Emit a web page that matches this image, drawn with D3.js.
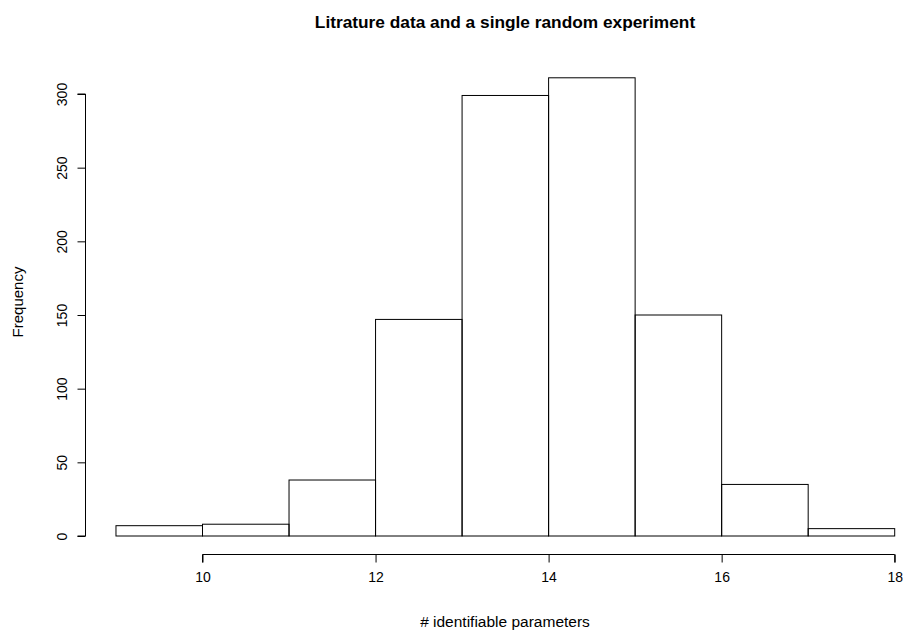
<!DOCTYPE html>
<html><head><meta charset="utf-8">
<script src="https://cdn.jsdelivr.net/npm/d3@7"></script>
<style>
body{margin:0;background:#fff;}
text{font-family:"Liberation Sans",Arial,Helvetica,sans-serif;fill:#000;}
</style></head>
<body><svg id="c" width="907" height="633"></svg>
<script>
const binStarts = [9,10,11,12,13,14,15,16,17];
const binWidth = 1;
const counts = [7,8,38,147,299,311,150,35,5];
const xTicks = [10,12,14,16,18];
const yTicks = [0,50,100,150,200,250,300];
const title = "Litrature data and a single random experiment";
const xLabel = "# identifiable parameters";
const yLabel = "Frequency";

const svg = d3.select("#c");
const x = d3.scaleLinear().domain([10,18]).range([202.5,894.7]);
const y = d3.scaleLinear().domain([0,300]).range([536,94]);

svg.append("g").selectAll("rect").data(counts).join("rect")
  .attr("x",(d,i)=>x(binStarts[i]))
  .attr("width",(d,i)=>x(binStarts[i]+binWidth)-x(binStarts[i]))
  .attr("y",d=>y(d))
  .attr("height",d=>y(0)-y(d))
  .attr("fill","none").attr("stroke","#000").attr("stroke-width",1);

// x axis
const gx = svg.append("g").attr("transform","translate(0,554.5)")
  .call(d3.axisBottom(x).tickValues(xTicks).tickSize(8).tickPadding(10).tickFormat(d3.format("d")));
gx.attr("font-size",null).attr("font-family",null);
gx.select(".domain").attr("d",`M${x(10)},8V0H${x(18)}V8`);
gx.selectAll(".tick text").style("font-size","14px");

// y axis
const gy = svg.append("g").attr("transform","translate(85.5,0)")
  .call(d3.axisLeft(y).tickValues(yTicks).tickSize(8).tickFormat(d3.format("d")));
gy.attr("font-size",null).attr("font-family",null);
gy.select(".domain").attr("d",`M-8,${y(0)}H0V${y(300)}H-8`);
gy.selectAll(".tick text").attr("transform","rotate(-90)").attr("x",0).attr("y",-19)
  .attr("dy","0").style("text-anchor","middle").style("font-size","14px");

svg.append("text").attr("x",505).attr("y",28).attr("text-anchor","middle")
  .style("font-size","17.3px").style("font-weight","bold").text(title);
svg.append("text").attr("x",505).attr("y",627).attr("text-anchor","middle")
  .style("font-size","15.5px").text(xLabel);
svg.append("text").attr("transform","translate(23,302) rotate(-90)").attr("text-anchor","middle")
  .style("font-size","15px").text(yLabel);
</script></body></html>
